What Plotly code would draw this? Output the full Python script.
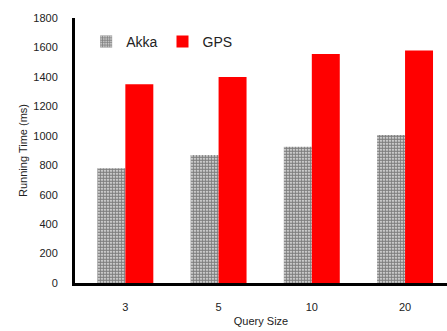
import plotly.graph_objects as go

categories = ["3", "5", "10", "20"]
akka = [780, 870, 925, 1005]
gps = [1350, 1400, 1555, 1580]
y_ticks = [0, 200, 400, 600, 800, 1000, 1200, 1400, 1600, 1800]

fig = go.Figure()
fig.add_trace(go.Bar(
    x=categories, y=akka, name="Akka",
    marker=dict(color="white", line=dict(width=0),
                pattern=dict(shape=".", fgcolor="#000000", bgcolor="#ffffff",
                             size=3, solidity=0.75)),
))
fig.add_trace(go.Bar(
    x=categories, y=gps, name="GPS",
    marker=dict(color="#ff0000", line=dict(width=0)),
))

font_family = "Liberation Sans, Arial, sans-serif"
fig.update_layout(
    width=447, height=331,
    margin=dict(l=75, r=0, t=18, b=48),
    paper_bgcolor="white", plot_bgcolor="white",
    barmode="group", bargap=0.4, bargroupgap=0,
    font=dict(family=font_family, size=11, color="#222222"),
    showlegend=True,
    legend=dict(orientation="h", x=0.03, y=0.97, xanchor="left", yanchor="top",
                font=dict(size=14, color="#222222"), bgcolor="rgba(0,0,0,0)",
                itemwidth=30, tracegroupgap=0),
    xaxis=dict(
        type="category", range=[-0.54, 3.45],
        showline=True, linecolor="black", linewidth=3,
        showgrid=False, ticks="", ticklabelstandoff=12,
        title=dict(text="Query Size", font=dict(size=11), standoff=6),
    ),
    yaxis=dict(
        range=[0, 1800], tickvals=y_ticks,
        showline=True, linecolor="black", linewidth=3,
        showgrid=False, zeroline=False, ticks="", ticklabelstandoff=12,
        title=dict(text="Running Time (ms)", font=dict(size=11), standoff=4),
    ),
)

fig.write_html(
    "out.html",
    config={"displayModeBar": False},
    post_script="document.body.style.margin='0';document.body.style.overflow='hidden';",
)
